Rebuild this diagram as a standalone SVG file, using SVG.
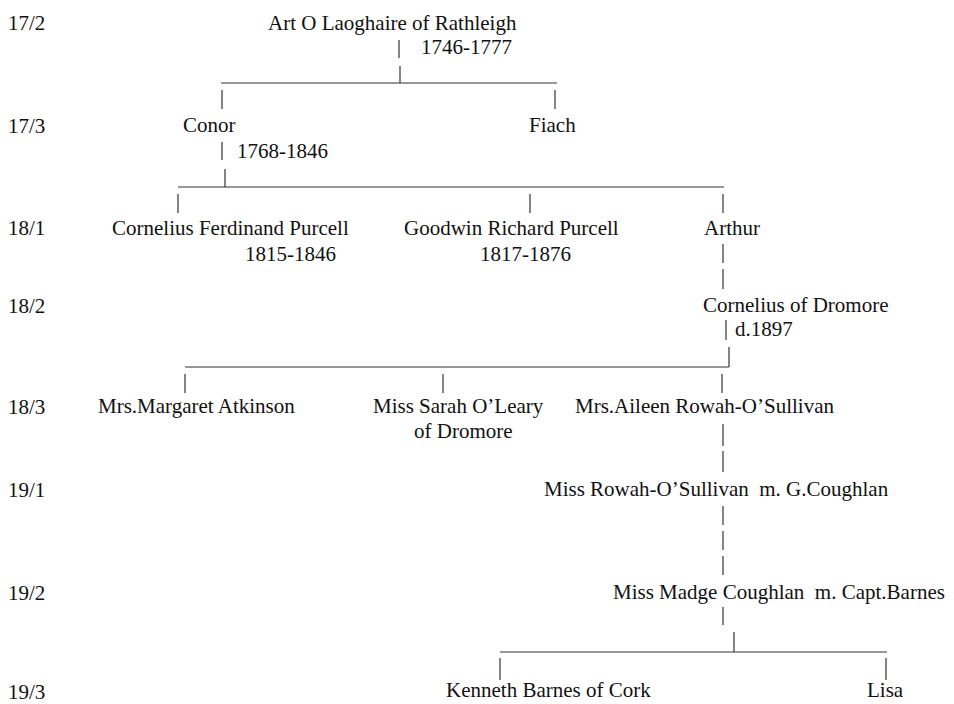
<svg xmlns="http://www.w3.org/2000/svg" width="954" height="704" viewBox="0 0 954 704">
<style>
text{font-family:"Liberation Serif","Times New Roman",serif;font-size:21px;fill:#111;white-space:pre}
.c line{stroke:#333;stroke-width:1.2}
</style>
<rect width="954" height="704" fill="#fff"/>
<g id="gen-labels">
<text x="8" y="30">17/2</text>
<text x="8" y="133">17/3</text>
<text x="8" y="235">18/1</text>
<text x="8" y="313">18/2</text>
<text x="8" y="414">18/3</text>
<text x="8" y="497">19/1</text>
<text x="8" y="600">19/2</text>
<text x="8" y="699">19/3</text>
</g>
<g id="art"><text x="268" y="30">Art O Laoghaire of Rathleigh</text><text x="421" y="54">1746-1777</text></g>
<g id="conor"><text x="183" y="132">Conor</text><text x="237" y="158">1768-1846</text></g>
<g id="fiach"><text x="529" y="132">Fiach</text></g>
<g id="cornelius-ferdinand"><text x="112" y="235">Cornelius Ferdinand Purcell</text><text x="245" y="261">1815-1846</text></g>
<g id="goodwin"><text x="404" y="235">Goodwin Richard Purcell</text><text x="480" y="261">1817-1876</text></g>
<g id="arthur"><text x="704" y="235">Arthur</text></g>
<g id="cornelius-dromore"><text x="703" y="312">Cornelius of Dromore</text><text x="735" y="336">d.1897</text></g>
<g id="margaret"><text x="98" y="413">Mrs.Margaret Atkinson</text></g>
<g id="sarah"><text x="373" y="413">Miss Sarah O’Leary</text><text x="414" y="438">of Dromore</text></g>
<g id="aileen"><text x="575" y="413">Mrs.Aileen Rowah-O’Sullivan</text></g>
<g id="rowah"><text x="544" y="496">Miss Rowah-O’Sullivan  m. G.Coughlan</text></g>
<g id="madge"><text x="613" y="599">Miss Madge Coughlan  m. Capt.Barnes</text></g>
<g id="kenneth"><text x="446" y="697">Kenneth Barnes of Cork</text></g>
<g id="lisa"><text x="867" y="697">Lisa</text></g>
<g id="connectors" class="c">
<line x1="399" y1="40" x2="399" y2="58"/>
<line x1="400" y1="66" x2="400" y2="83"/>
<line x1="221" y1="83" x2="557" y2="83"/>
<line x1="222" y1="90" x2="222" y2="109"/>
<line x1="555" y1="90" x2="555" y2="109"/>
<line x1="222" y1="142" x2="222" y2="160"/>
<line x1="225" y1="169" x2="225" y2="187"/>
<line x1="178" y1="187" x2="724" y2="187"/>
<line x1="178" y1="194" x2="178" y2="213"/>
<line x1="530" y1="194" x2="530" y2="213"/>
<line x1="723" y1="194" x2="723" y2="213"/>
<line x1="723" y1="244" x2="723" y2="263"/>
<line x1="723" y1="269" x2="723" y2="289"/>
<line x1="726" y1="320" x2="726" y2="340"/>
<line x1="729" y1="347" x2="729" y2="367"/>
<line x1="185" y1="367" x2="729" y2="367"/>
<line x1="185" y1="374" x2="185" y2="393"/>
<line x1="443" y1="374" x2="443" y2="393"/>
<line x1="722" y1="374" x2="722" y2="393"/>
<line x1="723" y1="424" x2="723" y2="446"/>
<line x1="723" y1="451" x2="723" y2="472"/>
<line x1="723" y1="506" x2="723" y2="525"/>
<line x1="723" y1="531" x2="723" y2="550"/>
<line x1="723" y1="556" x2="723" y2="575"/>
<line x1="723" y1="607" x2="723" y2="625"/>
<line x1="734" y1="632" x2="734" y2="652"/>
<line x1="500" y1="652" x2="887" y2="652"/>
<line x1="500" y1="658" x2="500" y2="680"/>
<line x1="886" y1="658" x2="886" y2="680"/>
</g>
</svg>
